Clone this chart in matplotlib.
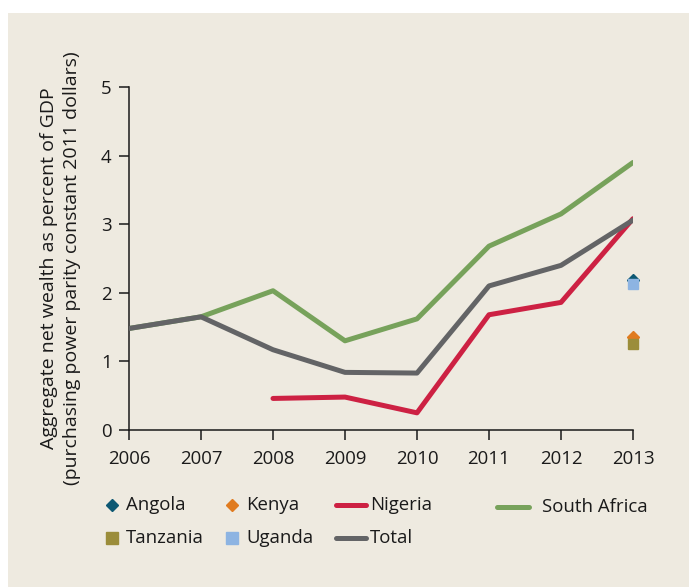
import matplotlib
matplotlib.use("Agg")
import matplotlib.pyplot as plt
from matplotlib.patches import Rectangle
from matplotlib.lines import Line2D

plt.rcParams['font.family'] = ['Open Sans', 'DejaVu Sans']

years = [2006, 2007, 2008, 2009, 2010, 2011, 2012, 2013]
total = [1.48, 1.65, 1.17, 0.84, 0.83, 2.10, 2.40, 3.06]
south_africa = [1.48, 1.65, 2.03, 1.30, 1.62, 2.68, 3.15, 3.90]
nigeria_years = [2008, 2009, 2010, 2011, 2012, 2013]
nigeria = [0.46, 0.48, 0.25, 1.68, 1.86, 3.08]
point_year = 2013
angola = 2.18
kenya = 1.35
tanzania = 1.25
uganda = 2.13

BG = '#EEEAE0'
C_SA = '#77A25B'
C_NG = '#CD2143'
C_TOT = '#636466'
C_ANG = '#0D5873'
C_KEN = '#E07B1F'
C_TAN = '#9B8D3A'
C_UGA = '#8DB4E2'
TXT = '#1a1a1a'
FS = 13.4

fig = plt.figure(figsize=(6.89, 5.87), dpi=100)
fig.patch.set_facecolor('white')
fig.patches.append(Rectangle((8 / 689, 0), 1 - 8 / 689, 1 - 13 / 587,
                             transform=fig.transFigure, facecolor=BG,
                             edgecolor='none', zorder=-10))

ax = fig.add_axes([129 / 689, 1 - 430 / 587, 504 / 689, 343 / 587])
ax.set_facecolor('none')
ax.set_zorder(5)

ax.plot(years, south_africa, color=C_SA, lw=3.6, solid_capstyle='round', zorder=2)
ax.plot(years, total, color=C_TOT, lw=3.6, solid_capstyle='round', zorder=4)
ax.plot(nigeria_years, nigeria, color=C_NG, lw=3.6, solid_capstyle='round', zorder=3)
ax.plot([point_year], [angola], marker='D', ms=6.5, color=C_ANG, ls='none', zorder=5, clip_on=False)
ax.plot([point_year], [uganda], marker='s', ms=7, color=C_UGA, ls='none', zorder=6, clip_on=False)
ax.plot([point_year], [kenya], marker='D', ms=6.5, color=C_KEN, ls='none', zorder=5, clip_on=False)
ax.plot([point_year], [tanzania], marker='s', ms=7, color=C_TAN, ls='none', zorder=6, clip_on=False)

ax.set_xlim(2006, 2013)
ax.set_ylim(0, 5)
ax.set_xticks(years)
ax.set_yticks([0, 1, 2, 3, 4, 5])
for s in ['top', 'right']:
    ax.spines[s].set_visible(False)
for s in ['left', 'bottom']:
    ax.spines[s].set_color(TXT)
    ax.spines[s].set_linewidth(1.1)
ax.tick_params(axis='both', direction='out', length=7.5, width=1.1,
               color=TXT, labelsize=FS, labelcolor=TXT)
ax.tick_params(axis='x', pad=7)
ax.tick_params(axis='y', pad=5)

fig.text(49 / 689, 1 - 268 / 587, 'Aggregate net wealth as percent of GDP',
         rotation=90, ha='center', va='center', fontsize=14, color=TXT)
fig.text(72 / 689, 1 - 268 / 587, '(purchasing power parity constant 2011 dollars)',
         rotation=90, ha='center', va='center', fontsize=14, color=TXT)

# Legend, laid out in two rows
legend_items = [
    ('Angola', 'D', C_ANG, 112, 126, 505),
    ('Kenya', 'D', C_KEN, 232, 246, 505),
    ('Tanzania', 's', C_TAN, 112, 126, 538),
    ('Uganda', 's', C_UGA, 232, 246, 538),
]
for label, mk, col, mx, tx, y in legend_items:
    yf = 1 - y / 587
    fig.add_artist(Line2D([mx / 689], [yf], marker=mk, color=col, ls='none',
                          ms=6.5 if mk == 'D' else 8, transform=fig.transFigure))
    fig.text(tx / 689, yf, label, ha='left', va='center', fontsize=FS, color=TXT)

line_items = [
    ('Nigeria', C_NG, 336, 366, 370, 505),
    ('Total', C_TOT, 336, 366, 370, 538),
    ('South Africa', C_SA, 497, 529, 542, 507),
]
for label, col, x0, x1, tx, y in line_items:
    yf = 1 - y / 587
    fig.add_artist(Line2D([x0 / 689, x1 / 689], [yf, yf], color=col, lw=3.6,
                          solid_capstyle='round', transform=fig.transFigure))
    fig.text(tx / 689, yf, label, ha='left', va='center', fontsize=FS, color=TXT)

fig.savefig('out.png', dpi=100, facecolor=fig.get_facecolor())
